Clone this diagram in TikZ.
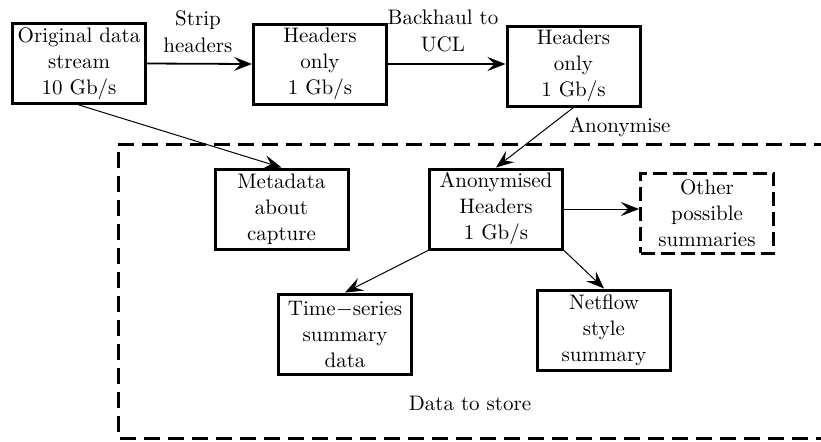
\documentclass[tikz,border=0pt]{standalone}
\usetikzlibrary{arrows.meta}

\tikzset{
	stage/.style = {draw, line width = 1.5pt, align = center, minimum width = 66.5pt, minimum height = 40pt, inner sep = 1pt, font = \fontsize{10.5}{13}\selectfont},
	maybe/.style = {stage, dash pattern = on 7pt off 3pt},
	lbl/.style = {align = center, font = \fontsize{10.5}{13.5}\selectfont},
	flow/.style = {-{Stealth[length = 9pt, width = 7pt, inset = 3.5pt]}, line width = 0.5pt},
	bigflow/.style = {flow, line width = 0.9pt}
}

\begin{document}
	\begin{tikzpicture}[x = 0.5pt, y = -0.5pt]
		\useasboundingbox (0, 0) rectangle (821, 441);
		\clip (0, 0) rectangle (821, 441);
		\draw [line width = 1.5pt, dash pattern = on 8pt off 4pt] (830, 144) -- (118, 144) -- (118, 438) -- (830, 438);
		\node [stage] (orig) at (79, 63.5) {Original data\\stream\\10 Gb/s};
		\node [stage] (hdr) at (320, 64) {Headers\\only\\1 Gb/s};
		\node [stage] (hdrucl) at (573.5, 66) {Headers\\only\\1 Gb/s};
		\node [stage] (meta) at (281.5, 209) {Metadata\\about\\capture};
		\node [stage] (anon) at (496, 209) {Anonymised\\Headers\\1 Gb/s};
		\node [maybe] (other) at (707, 213) {Other\\possible\\summaries};
		\node [stage] (tseries) at (345, 334) {Time$-$series\\summary\\data};
		\node [stage] (netflow) at (604, 330) {Netflow\\style\\summary};
		\node [lbl] (strip) at (198, 32) {Strip\\headers};
		\node [lbl] (backhaul) at (443, 31) {Backhaul to\\UCL};
		\node [lbl] (anonlbl) at (620, 127) {Anonymise};
		\node [lbl] (store) at (470, 403) {Data to store};
		\draw [bigflow] (orig.east) -- (hdr.west);
		\draw [bigflow] (hdr.east) -- (hdr.east -| hdrucl.west);
		\draw [flow] (orig.south) -- (meta.north);
		\draw [flow] (hdrucl.south) -- (anon.north);
		\draw [flow] (anon.east) -- (anon.east -| other.west);
		\draw [flow] (anon.south west) -- (tseries.north);
		\draw [flow] (anon.south east) -- (netflow.north);
	\end{tikzpicture}
\end{document}
